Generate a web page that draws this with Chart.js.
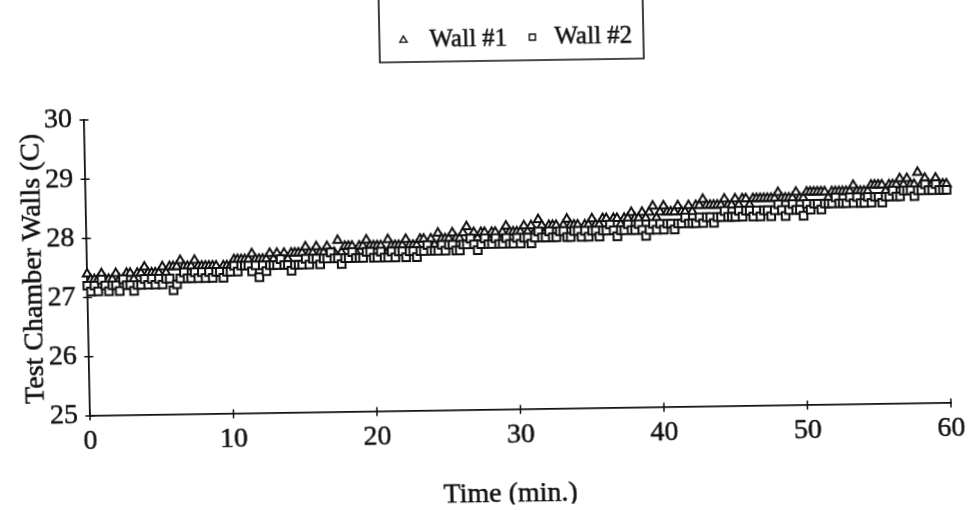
<!DOCTYPE html>
<html>
<head>
<meta charset="utf-8">
<script src="https://cdn.jsdelivr.net/npm/chart.js@4.4.1/dist/chart.umd.min.js"></script>
<style>
  html, body { margin: 0; padding: 0; background: #ffffff; overflow: hidden; }
  #wrap { position: absolute; left: 0; top: 0; width: 974px; height: 511px; }
  /* the printed sheet sits slightly skewed on the page */
  #chart { display: block; transform-origin: 90px 416px; transform: matrix(1, -0.0151, 0.0203, 1, 0, 0); }
</style>
</head>
<body>
<div id="wrap"><canvas id="chart" width="974" height="511"></canvas></div>
<script>
// Wall temperatures (C), one reading every quarter minute from 0 to 60 min
const SAMPLE_STEP_MIN = 0.25;

const wall1 = [
  27.4, 27.3, 27.3, 27.3, 27.4, 27.3, 27.3, 27.3, 27.4, 27.3, 27.3, 27.4, 27.4, 27.3, 27.4, 27.4, 27.5, 27.4, 27.4, 27.4,
  27.4, 27.5, 27.4, 27.5, 27.5, 27.5, 27.6, 27.5, 27.5, 27.5, 27.6, 27.5, 27.5, 27.5, 27.5, 27.5, 27.5, 27.4, 27.5, 27.5,
  27.5, 27.6, 27.6, 27.6, 27.6, 27.6, 27.7, 27.6, 27.6, 27.6, 27.6, 27.7, 27.6, 27.7, 27.6, 27.7, 27.6, 27.7, 27.7, 27.7,
  27.7, 27.8, 27.7, 27.7, 27.8, 27.7, 27.7, 27.8, 27.7, 27.7, 27.9, 27.7, 27.8, 27.8, 27.8, 27.7, 27.8, 27.8, 27.9, 27.8,
  27.8, 27.8, 27.8, 27.7, 27.9, 27.8, 27.8, 27.8, 27.8, 27.9, 27.8, 27.8, 27.8, 27.9, 27.9, 27.8, 27.9, 27.8, 28.0, 27.9,
  27.9, 27.9, 28.0, 27.9, 27.9, 28.0, 28.1, 27.9, 28.0, 27.9, 28.0, 28.0, 27.9, 28.0, 28.0, 27.9, 28.0, 28.1, 28.0, 28.0,
  28.0, 28.0, 28.1, 28.0, 28.1, 28.0, 28.2, 28.1, 28.0, 28.1, 28.1, 28.1, 28.0, 28.1, 28.2, 28.1, 28.1, 28.1, 28.0, 28.1,
  28.1, 28.2, 28.1, 28.1, 28.2, 28.2, 28.1, 28.2, 28.2, 28.1, 28.2, 28.2, 28.3, 28.2, 28.2, 28.3, 28.2, 28.3, 28.4, 28.2,
  28.3, 28.4, 28.3, 28.3, 28.3, 28.4, 28.3, 28.3, 28.4, 28.3, 28.4, 28.4, 28.5, 28.4, 28.4, 28.4, 28.4, 28.4, 28.5, 28.4,
  28.4, 28.5, 28.4, 28.5, 28.5, 28.4, 28.5, 28.5, 28.5, 28.5, 28.5, 28.5, 28.5, 28.6, 28.5, 28.5, 28.5, 28.5, 28.6, 28.5,
  28.5, 28.6, 28.6, 28.6, 28.6, 28.6, 28.6, 28.5, 28.6, 28.6, 28.6, 28.6, 28.6, 28.6, 28.7, 28.6, 28.6, 28.6, 28.6, 28.7,
  28.7, 28.7, 28.7, 28.6, 28.7, 28.7, 28.7, 28.8, 28.7, 28.8, 28.7, 28.7, 28.9, 28.7, 28.8, 28.7, 28.7, 28.8, 28.7, 28.7,
  28.7
];

const wall2 = [
  27.2, 27.1, 27.2, 27.1, 27.3, 27.2, 27.1, 27.2, 27.2, 27.1, 27.3, 27.2, 27.2, 27.1, 27.2, 27.2, 27.3, 27.2, 27.3, 27.2,
  27.3, 27.2, 27.3, 27.3, 27.1, 27.2, 27.3, 27.4, 27.3, 27.3, 27.4, 27.3, 27.4, 27.3, 27.4, 27.3, 27.4, 27.4, 27.3, 27.4,
  27.4, 27.5, 27.4, 27.5, 27.5, 27.5, 27.4, 27.5, 27.3, 27.5, 27.4, 27.5, 27.5, 27.5, 27.6, 27.5, 27.5, 27.4, 27.5, 27.5,
  27.5, 27.6, 27.5, 27.6, 27.6, 27.5, 27.6, 27.6, 27.7, 27.6, 27.6, 27.5, 27.6, 27.6, 27.7, 27.6, 27.6, 27.6, 27.7, 27.7,
  27.6, 27.6, 27.7, 27.6, 27.6, 27.7, 27.6, 27.7, 27.7, 27.6, 27.7, 27.7, 27.6, 27.7, 27.7, 27.8, 27.7, 27.7, 27.7, 27.8,
  27.7, 27.8, 27.8, 27.7, 27.7, 27.8, 27.8, 27.9, 27.8, 27.7, 27.8, 27.9, 27.8, 27.8, 27.9, 27.8, 27.8, 27.9, 27.8, 27.8,
  27.9, 27.8, 27.9, 27.9, 27.8, 27.9, 28.0, 27.9, 27.9, 28.0, 27.9, 27.9, 28.0, 28.0, 27.9, 27.9, 28.0, 28.0, 27.9, 28.0,
  27.9, 28.0, 28.0, 27.9, 28.0, 28.0, 28.1, 28.0, 27.9, 28.0, 28.0, 28.1, 28.0, 28.0, 28.1, 28.0, 27.9, 28.0, 28.1, 28.0,
  28.1, 28.0, 28.1, 28.1, 28.0, 28.1, 28.1, 28.2, 28.1, 28.1, 28.1, 28.2, 28.1, 28.2, 28.2, 28.1, 28.2, 28.2, 28.3, 28.2,
  28.2, 28.2, 28.3, 28.2, 28.3, 28.3, 28.2, 28.3, 28.2, 28.3, 28.3, 28.2, 28.3, 28.4, 28.3, 28.2, 28.3, 28.4, 28.3, 28.3,
  28.2, 28.4, 28.3, 28.4, 28.4, 28.3, 28.4, 28.4, 28.4, 28.5, 28.4, 28.4, 28.4, 28.5, 28.4, 28.5, 28.4, 28.4, 28.5, 28.4,
  28.5, 28.5, 28.4, 28.5, 28.5, 28.6, 28.5, 28.5, 28.6, 28.6, 28.6, 28.5, 28.6, 28.6, 28.7, 28.6, 28.6, 28.7, 28.6, 28.6,
  28.6
];

const seriesNames = ['Wall #1', 'Wall #2'];
const xTicks = [0, 10, 20, 30, 40, 50, 60];
const yTicks = [25, 26, 27, 28, 29, 30];
const xTitle = 'Time (min.)';
const yTitle = 'Test Chamber Walls (C)';

const toPoints = vals => vals.map((v, i) => ({ x: i * SAMPLE_STEP_MIN, y: v }));

const SERIF = '"Liberation Serif", "Times New Roman", serif';
const INK = '#111111';

// Tick marks that cross the axis line on both sides
const crossTicks = {
  id: 'crossTicks',
  afterDatasetsDraw(chart) {
    const { ctx, scales: { x, y } } = chart;
    const ax = x.getPixelForValue(xTicks[0]);
    const ay = y.getPixelForValue(yTicks[0]);
    ctx.save();
    ctx.strokeStyle = INK;
    ctx.lineWidth = 1.5;
    ctx.beginPath();
    xTicks.forEach(t => {
      const px = x.getPixelForValue(t);
      ctx.moveTo(px, ay - 4.5); ctx.lineTo(px, ay + 4.5);
    });
    yTicks.forEach(t => {
      const py = y.getPixelForValue(t);
      ctx.moveTo(ax - 4.5, py); ctx.lineTo(ax + 4.5, py);
    });
    ctx.stroke();
    ctx.restore();
  }
};

// Axis titles, a touch heavier like the printed type
const axisTitles = {
  id: 'axisTitles',
  afterDraw(chart) {
    const { ctx, chartArea } = chart;
    ctx.save();
    ctx.font = '28px ' + SERIF;
    ctx.fillStyle = INK;
    ctx.strokeStyle = INK;
    ctx.lineWidth = 0.5;
    ctx.textAlign = 'center';
    ctx.textBaseline = 'middle';
    ctx.fillText(xTitle, 509, 501);
    ctx.strokeText(xTitle, 509, 501);
    ctx.translate(37, (chartArea.top + chartArea.bottom) / 2);
    ctx.rotate(-Math.PI / 2);
    ctx.fillText(yTitle, 0, 0);
    ctx.strokeText(yTitle, 0, 0);
    ctx.restore();
  }
};

// Open-topped legend frame with the two marker styles
const framedLegend = {
  id: 'framedLegend',
  afterDraw(chart) {
    const { ctx } = chart;
    const left = 387, right = 651, bottom = 67;
    ctx.save();
    ctx.strokeStyle = INK;
    ctx.lineWidth = 1.6;
    ctx.beginPath();
    ctx.moveTo(left, -5); ctx.lineTo(left, bottom); ctx.lineTo(right, bottom); ctx.lineTo(right, -5);
    ctx.stroke();

    const items = [
      { ds: chart.data.datasets[0], mx: 411, tx: 437, y: 45 },
      { ds: chart.data.datasets[1], mx: 540, tx: 562, y: 44 }
    ];
    ctx.font = '25px ' + SERIF;
    ctx.textBaseline = 'middle';
    ctx.textAlign = 'left';
    items.forEach(it => {
      ctx.fillStyle = '#ffffff';
      ctx.strokeStyle = INK;
      ctx.lineWidth = 1.4;
      Chart.helpers.drawPoint(ctx, { pointStyle: it.ds.pointStyle, radius: it.ds.pointStyle === 'rect' ? 4.3 : 4.2, borderWidth: 1.4, rotation: 0 }, it.mx, it.y);
      ctx.fillStyle = INK;
      ctx.lineWidth = 0.5;
      ctx.fillText(it.ds.label, it.tx, it.y);
      ctx.strokeText(it.ds.label, it.tx, it.y);
    });
    ctx.restore();
  }
};

const tickFont = { family: SERIF, size: 28 };

new Chart(document.getElementById('chart'), {
  type: 'scatter',
  data: {
    datasets: [
      {
        label: seriesNames[0],
        data: toPoints(wall1),
        pointStyle: 'triangle',
        pointRadius: 5,
        pointBorderWidth: 2,
        pointBorderColor: INK,
        pointBackgroundColor: '#ffffff',
        order: 1,
        clip: false
      },
      {
        label: seriesNames[1],
        data: toPoints(wall2),
        pointStyle: 'rect',
        pointRadius: 5.4,
        pointBorderWidth: 2,
        pointBorderColor: INK,
        pointBackgroundColor: '#ffffff',
        order: 0,
        clip: false
      }
    ]
  },
  options: {
    responsive: false,
    animation: false,
    devicePixelRatio: 1,
    layout: { padding: { top: 120, right: 23, left: 0, bottom: 0 } },
    plugins: {
      legend: { display: false },
      tooltip: { enabled: false }
    },
    scales: {
      x: {
        type: 'linear',
        min: 0, max: 60,
        afterFit: s => { s.height = 95; },
        afterBuildTicks: s => { s.ticks = xTicks.map(v => ({ value: v })); },
        grid: { display: false, drawTicks: false },
        border: { display: true, color: INK, width: 1.8 },
        ticks: { color: INK, padding: 9, font: tickFont, textStrokeColor: INK, textStrokeWidth: 0.5 }
      },
      y: {
        type: 'linear',
        min: 25, max: 30,
        afterFit: s => { s.width = 90; },
        afterBuildTicks: s => { s.ticks = yTicks.map(v => ({ value: v })); },
        grid: { display: false, drawTicks: false },
        border: { display: true, color: INK, width: 1.8 },
        ticks: { color: INK, padding: 12, font: tickFont, textStrokeColor: INK, textStrokeWidth: 0.5 }
      }
    }
  },
  plugins: [crossTicks, axisTitles, framedLegend]
});
</script>
</body>
</html>
